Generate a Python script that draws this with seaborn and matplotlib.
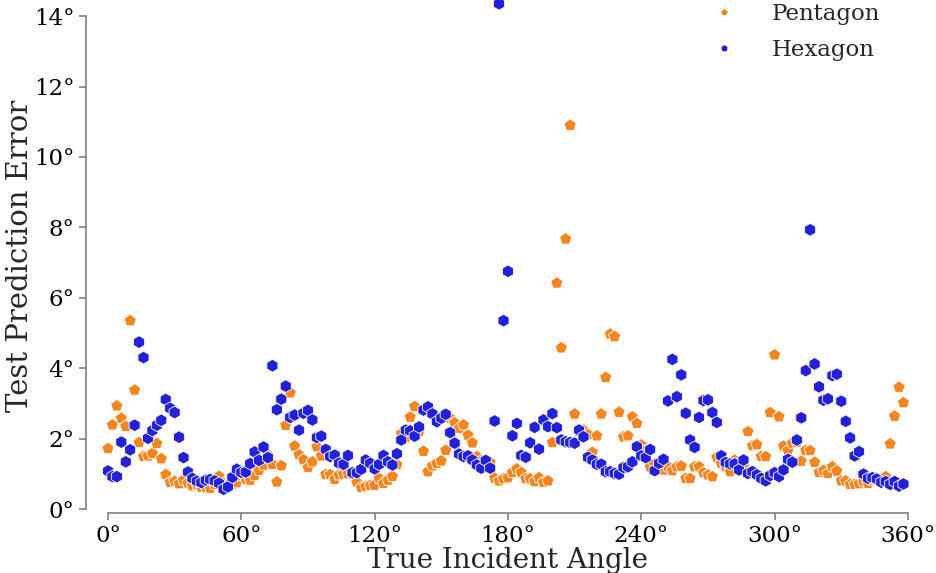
import numpy as np
import pandas as pd
import seaborn as sns
import matplotlib.pyplot as plt

# angles on a 2 degree grid
angles = list(range(0, 360, 2))

pentagon_err = [
    1.72, 2.39, 2.93, 2.58, 2.35, 5.35, 3.38, 1.89, 1.49, 1.51,
    1.58, 1.86, 1.43, 0.98, 0.76, 0.79, 0.72, 0.82, 0.74, 0.66,
    0.70, 0.62, 0.62, 0.59, 0.70, 0.93, 0.73, 0.70, 0.71, 0.75,
    0.95, 0.85, 0.82, 0.95, 1.10, 1.25, 1.53, 1.27, 0.77, 1.23,
    2.38, 3.30, 1.79, 1.54, 1.40, 1.18, 1.34, 1.77, 1.51, 0.98,
    0.98, 0.84, 0.97, 0.99, 1.00, 0.99, 0.76, 0.61, 0.64, 0.67,
    0.68, 0.87, 0.73, 0.82, 0.93, 1.26, 2.14, 2.03, 2.61, 2.91,
    2.20, 1.64, 1.06, 1.23, 1.30, 1.37, 1.67, 2.58, 2.45, 2.29,
    2.39, 2.10, 1.88, 1.49, 1.37, 1.35, 1.32, 0.88, 0.80, 0.86,
    0.89, 1.04, 1.14, 1.04, 0.86, 0.86, 0.78, 0.89, 0.76, 0.80,
    1.89, 6.42, 4.58, 7.67, 10.9, 2.70, 2.20, 2.24, 2.12, 1.61,
    2.08, 2.70, 3.74, 4.97, 4.90, 2.75, 2.05, 2.08, 2.62, 2.43,
    1.82, 1.66, 1.20, 1.28, 1.16, 1.11, 1.20, 1.09, 1.20, 1.22,
    0.87, 0.87, 1.20, 1.20, 1.03, 0.97, 0.92, 1.47, 1.30, 1.20,
    1.06, 1.39, 1.30, 1.20, 2.20, 1.80, 1.83, 1.49, 1.49, 2.74,
    4.38, 2.62, 1.79, 1.66, 1.87, 1.89, 1.36, 1.66, 1.66, 1.33,
    1.04, 1.09, 1.01, 1.20, 1.08, 0.80, 0.80, 0.70, 0.70, 0.72,
    0.78, 0.73, 0.82, 0.85, 0.80, 0.92, 1.85, 2.64, 3.46, 3.02,
]

hexagon_err = [
    1.08, 0.92, 0.92, 1.90, 1.34, 1.68, 2.38, 4.74, 4.30, 2.01,
    2.23, 2.38, 2.52, 3.11, 2.86, 2.74, 2.04, 1.46, 1.05, 0.87,
    0.79, 0.75, 0.82, 0.84, 0.80, 0.73, 0.56, 0.63, 0.90, 1.13,
    1.04, 1.05, 1.29, 1.62, 1.38, 1.76, 1.46, 4.07, 2.82, 3.12,
    3.49, 2.60, 2.67, 2.24, 2.72, 2.80, 2.53, 2.03, 2.07, 1.69,
    1.49, 1.53, 1.30, 1.27, 1.52, 1.03, 1.03, 1.13, 1.39, 1.30,
    1.14, 1.27, 1.52, 1.34, 1.25, 1.57, 1.96, 2.24, 2.22, 2.07,
    2.33, 2.81, 2.90, 2.70, 2.48, 2.58, 2.69, 2.17, 1.87, 1.56,
    1.49, 1.51, 1.39, 1.25, 1.16, 1.38, 1.16, 2.50, 14.35, 5.35,
    6.75, 2.08, 2.43, 1.52, 1.47, 1.88, 2.32, 1.70, 2.53, 2.34,
    2.71, 2.31, 1.96, 1.91, 1.89, 1.87, 2.24, 2.05, 1.47, 1.39,
    1.27, 1.27, 1.06, 1.06, 1.01, 0.99, 1.18, 1.20, 1.34, 1.77,
    1.51, 1.46, 1.69, 1.09, 1.30, 1.41, 3.07, 4.25, 3.19, 3.81,
    2.72, 1.96, 1.75, 2.60, 3.08, 3.10, 2.74, 2.46, 1.51, 1.32,
    1.28, 1.28, 1.11, 1.39, 1.01, 1.06, 0.97, 0.87, 0.80, 0.95,
    1.03, 0.92, 1.11, 1.41, 1.33, 1.96, 2.59, 3.93, 7.93, 4.12,
    3.47, 3.09, 3.13, 3.79, 3.83, 3.06, 2.49, 2.02, 1.51, 1.63,
    0.99, 0.87, 0.89, 0.85, 0.76, 0.78, 0.70, 0.78, 0.65, 0.71,
]

shapes = ['Pentagon', 'Hexagon']
colors = {'Pentagon': '#f5861f', 'Hexagon': '#2321d8'}
markers = {'Pentagon': 'p', 'Hexagon': 'h'}
xticks = [0, 60, 120, 180, 240, 300, 360]
yticks = [0, 2, 4, 6, 8, 10, 12, 14]

df = pd.DataFrame({
    'angle': angles + angles,
    'error': pentagon_err + hexagon_err,
    'shape': ['Pentagon'] * len(angles) + ['Hexagon'] * len(angles),
})

sns.set_theme(style='ticks', context='talk')
plt.rcParams['font.family'] = ['DejaVu Serif']
plt.rcParams['axes.edgecolor'] = '0.5'
plt.rcParams['xtick.color'] = '0.5'
plt.rcParams['ytick.color'] = '0.5'
plt.rcParams['xtick.labelcolor'] = 'black'
plt.rcParams['ytick.labelcolor'] = 'black'

W, H = 936, 573
fig = plt.figure(figsize=(W / 100, H / 100), dpi=100)
ax = fig.add_axes([101.3 / W, (H - 509) / H, 813.3 / W, 507 / H])

sns.scatterplot(data=df, x='angle', y='error', hue='shape', style='shape',
                hue_order=shapes, style_order=shapes, palette=colors,
                markers=markers, s=85, edgecolor='white', linewidth=0.6,
                ax=ax, clip_on=False)

ax.set_xlim(-3, 363)
ax.set_ylim(0, 14.4)
ax.set_xticks(xticks)
ax.set_xticklabels([f'{v}°' for v in xticks], fontsize=16.5)
ax.set_yticks(yticks)
ax.set_yticklabels([f'{v}°' for v in yticks], fontsize=16.5)
ax.tick_params(length=5, width=1.2)
ax.set_xlabel('True Incident Angle', fontsize=20, labelpad=0)
ax.set_ylabel('Test Prediction Error', fontsize=21, labelpad=0)

sns.despine(ax=ax, offset={'left': 11, 'bottom': 3}, trim=True)
for sp in ax.spines.values():
    sp.set_linewidth(1.2)

handles, labels = ax.get_legend_handles_labels()
ax.legend(handles, labels, frameon=False, fontsize=16.5, markerscale=0.6,
          handlelength=1.0, handletextpad=1.6, labelspacing=0.58,
          loc='upper left', bbox_to_anchor=(692 / W, 1.03),
          bbox_transform=fig.transFigure)

fig.savefig('out.png', dpi=100)
